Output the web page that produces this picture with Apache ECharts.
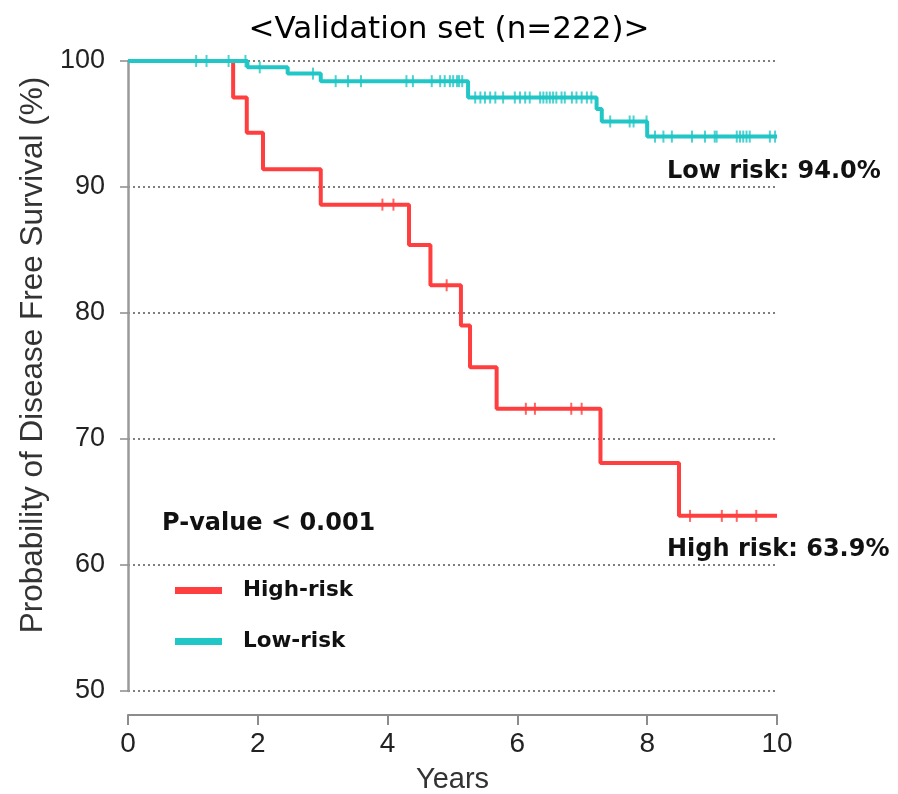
<!DOCTYPE html>
<html>
<head>
<meta charset="utf-8">
<script src="https://cdn.jsdelivr.net/npm/echarts@6/dist/echarts.min.js"></script>
<style>
  html, body { margin: 0; padding: 0; background: #fff; }
  #chart { width: 898px; height: 794px; }
</style>
</head>
<body>
<div id="chart"></div>
<script>
// Kaplan-Meier estimates: event times (years) and survival (%) after each step
const highTimes = [0, 1.62, 1.83, 2.08, 2.97, 4.33, 4.66, 5.13, 5.27, 5.68, 7.28, 8.49, 10];
const highSurv  = [100, 97.1, 94.3, 91.4, 88.6, 85.4, 82.2, 79.0, 75.7, 72.4, 68.1, 63.9, 63.9];
const highCensor = [3.92, 4.09, 4.91, 6.13, 6.27, 6.83, 6.99, 8.66, 9.15, 9.38, 9.68];

const lowTimes = [0, 1.84, 2.46, 2.97, 5.24, 7.22, 7.30, 8.00, 10];
const lowSurv  = [100, 99.5, 99.0, 98.4, 97.1, 96.2, 95.2, 94.0, 94.0];
const lowCensor = [1.05, 1.21, 1.55, 1.81, 2.03, 2.85, 3.20, 3.39, 3.59, 4.29, 4.39, 4.68,
  4.81, 4.88, 4.96, 5.01, 5.07, 5.10, 5.15, 5.35, 5.43, 5.50, 5.58, 5.66, 5.78, 5.96,
  6.04, 6.12, 6.19, 6.35, 6.40, 6.45, 6.50, 6.55, 6.60, 6.68, 6.73, 6.84, 6.91, 6.99,
  7.07, 7.14, 7.43, 7.73, 7.79, 7.99, 8.12, 8.25, 8.38, 8.69, 8.89, 9.04, 9.07, 9.38,
  9.43, 9.48, 9.53, 9.58, 9.89, 9.97];

const xTicks = [0, 2, 4, 6, 8, 10];
const yTicks = [50, 60, 70, 80, 90, 100];

const RED = '#ff3f3f';
const CYAN = '#21c6c6';
const LABEL_FONT = '"DejaVu Sans", "Noto Sans", sans-serif';
const AXIS_FONT = '"Liberation Sans", Arial, sans-serif';

// survival value of a step curve at time t
function survAt(times, surv, t) {
  let v = surv[0];
  for (let i = 0; i < times.length; i++) {
    if (times[i] <= t) v = surv[i];
  }
  return v;
}
const curve = (times, surv) => times.map((t, i) => [t, surv[i]]);
const censorPts = (times, surv, cens) => cens.map(t => [t, survAt(times, surv, t)]);

const chart = echarts.init(document.getElementById('chart'), null, { renderer: 'canvas' });

chart.setOption({
  animation: false,
  backgroundColor: '#fff',
  title: {
    text: '<Validation set (n=222)>',
    left: 'center',
    top: 9,
    textStyle: { fontFamily: LABEL_FONT, fontWeight: 'normal', fontSize: 31, color: '#000' }
  },
  grid: { left: 128, right: 121, top: 61, bottom: 103, outerBoundsMode: 'none', containLabel: false },
  legend: {
    orient: 'vertical',
    left: 170,
    top: 572,
    itemWidth: 47,
    itemHeight: 7,
    itemGap: 24,
    icon: 'rect',
    data: ['High-risk', 'Low-risk'],
    textStyle: {
      fontFamily: LABEL_FONT, fontWeight: 'bold', fontSize: 21.5, color: '#111',
      padding: [0, 0, 0, 16], lineHeight: 27
    }
  },
  xAxis: {
    type: 'value',
    min: 0, max: 10, interval: 2,
    offset: 24,
    name: 'Years',
    nameLocation: 'middle',
    nameGap: 50,
    nameTextStyle: { fontFamily: AXIS_FONT, fontSize: 29, color: '#333' },
    axisLine: { show: true, onZero: false, lineStyle: { color: '#8c8c8c', width: 2 } },
    axisTick: { show: true, length: 10, lineStyle: { color: '#8c8c8c', width: 2 } },
    axisLabel: {
      margin: 15, fontFamily: AXIS_FONT, fontSize: 28, color: '#222',
      formatter: v => xTicks.includes(v) ? String(v) : ''
    },
    splitLine: { show: false }
  },
  yAxis: {
    type: 'value',
    min: 50, max: 100, interval: 10,
    name: 'Probability of Disease Free Survival (%)',
    nameLocation: 'middle',
    nameGap: 73,
    nameTextStyle: {
      fontFamily: AXIS_FONT, fontSize: 31.5, color: '#333',
      padding: [0, 0, 0, 42]
    },
    axisLine: { show: true, lineStyle: { color: '#9a9a9a', width: 2.5 } },
    axisTick: { show: true, length: 8, lineStyle: { color: '#8c8c8c', width: 1.5 } },
    axisLabel: {
      margin: 23, fontFamily: AXIS_FONT, fontSize: 27, color: '#222',
      formatter: v => yTicks.includes(v) ? String(v) : ''
    },
    splitLine: { show: true, lineStyle: { color: '#555', width: 1.5, type: [2, 3] } }
  },
  graphic: [
    {
      type: 'text',
      left: 162,
      top: 512,
      style: {
        text: 'P-value < 0.001',
        font: 'bold 24px ' + LABEL_FONT,
        fill: '#111'
      }
    }
  ],
  series: [
    {
      name: 'High-risk',
      type: 'line',
      step: 'end',
      data: curve(highTimes, highSurv),
      showSymbol: false,
      symbol: 'none',
      z: 2,
      lineStyle: { color: RED, width: 4 },
      itemStyle: { color: RED },
      endLabel: {
        show: true,
        formatter: p => 'High risk: ' + p.value[1].toFixed(1) + '%',
        offset: [-118, 34],
        fontFamily: LABEL_FONT, fontWeight: 'bold', fontSize: 24, color: '#111'
      }
    },
    {
      name: 'High-risk censored',
      type: 'scatter',
      data: censorPts(highTimes, highSurv, highCensor),
      symbol: 'rect',
      symbolSize: [2, 12],
      z: 2,
      itemStyle: { color: RED }
    },
    {
      name: 'Low-risk',
      type: 'line',
      step: 'end',
      data: curve(lowTimes, lowSurv),
      showSymbol: false,
      symbol: 'none',
      z: 3,
      lineStyle: { color: CYAN, width: 4 },
      itemStyle: { color: CYAN },
      endLabel: {
        show: true,
        formatter: p => 'Low risk: ' + p.value[1].toFixed(1) + '%',
        offset: [-118, 35],
        fontFamily: LABEL_FONT, fontWeight: 'bold', fontSize: 24, color: '#111'
      }
    },
    {
      name: 'Low-risk censored',
      type: 'scatter',
      data: censorPts(lowTimes, lowSurv, lowCensor),
      symbol: 'rect',
      symbolSize: [2, 12],
      z: 3,
      itemStyle: { color: CYAN }
    }
  ]
});
</script>
</body>
</html>
